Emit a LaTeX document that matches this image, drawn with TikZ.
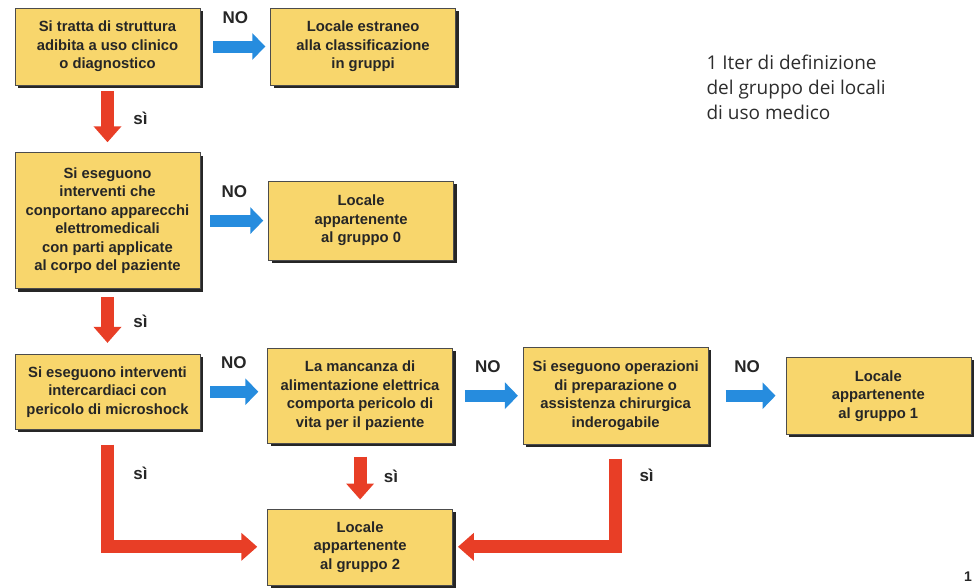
\documentclass[tikz,border=0pt]{standalone}
\usepackage{fontspec}
\setmainfont{Liberation Sans}
\newfontfamily\iterfont{Open Sans}
\usetikzlibrary{arrows.meta,positioning,calc,shadows}

\definecolor{boxyellow}{RGB}{248,214,108}
\definecolor{noblue}{RGB}{38,140,222}
\definecolor{sired}{RGB}{232,62,38}
\definecolor{itergray}{RGB}{45,45,45}

\begin{document}
\begin{tikzpicture}[
  box/.style={draw=black!70, line width=0.6pt, fill=boxyellow, align=center,
    minimum width=185pt, minimum height=77pt, inner sep=3pt,
    font=\bfseries\fontsize{14.8}{18.5}\selectfont, text=black!85,
    drop shadow={shadow xshift=3pt, shadow yshift=-3pt, fill=black!85, opacity=1}},
  lbl/.style={font=\bfseries\fontsize{17}{20}\selectfont, text=black!85},
  noarr/.style={-{Triangle[length=13pt,width=26pt]}, line width=12pt, draw=noblue},
  siarr/.style={-{Triangle[length=16pt,width=27pt]}, line width=13pt, draw=sired}
]
\useasboundingbox (0,0) rectangle (976pt,-587pt);

\node[box] (clinico) at (107.5pt,-46.5pt) {Si tratta di struttura\\adibita a uso clinico\\o diagnostico};
\node[box, right=70pt of clinico] (estraneo) {Locale estraneo\\alla classificazione\\in gruppi};
\node[box, minimum height=136pt, below=67pt of clinico] (apparecchi)
  {Si eseguono\\interventi che\\conportano apparecchi\\elettromedicali\\con parti applicate\\al corpo del paziente};
\node[box, minimum height=79pt, right=68pt of apparecchi] (gruppo0) {Locale\\appartenente\\al gruppo 0};
\node[box, minimum height=75pt, below=65pt of apparecchi] (microshock)
  {Si eseguono interventi\\intercardiaci con\\pericolo di microshock};
\node[box, minimum height=95pt, right=67pt of microshock, yshift=-4pt] (alimentazione)
  {La mancanza di\\alimentazione elettrica\\comporta pericolo di\\vita per il paziente};
\node[box, minimum height=76pt, below=65pt of alimentazione] (gruppo2) {Locale\\appartenente\\al gruppo 2};
\node[box, minimum height=97pt, right=70pt of alimentazione] (chirurgica)
  {Si eseguono operazioni\\di preparazione o\\assistenza chirurgica\\inderogabile};
\node[box, right=77pt of chirurgica] (gruppo1) {Locale\\appartenente\\al gruppo 1};

% risposte NO
\draw[noarr, shorten <=13pt, shorten >=5pt] (clinico.east) -- node[lbl, above=14pt] {NO} (clinico.east -| estraneo.west);
\draw[noarr, shorten <=10pt, shorten >=5pt] (apparecchi.east) -- node[lbl, above=14pt] {NO} (apparecchi.east -| gruppo0.west);
\draw[noarr, shorten <=10pt, shorten >=9pt] (microshock.east) -- node[lbl, above=14pt] {NO} (microshock.east -| alimentazione.west);
\draw[noarr, shorten <=12pt, shorten >=5pt] (alimentazione.east) -- node[lbl, above=14pt] {NO} (alimentazione.east -| chirurgica.west);
\draw[noarr, shorten <=17pt, shorten >=10pt] (chirurgica.east) -- node[lbl, above=14pt] {NO} (chirurgica.east -| gruppo1.west);

% risposte sì
\draw[siarr, shorten <=6pt, shorten >=10pt] (clinico.south) -- node[lbl, right=16pt] {sì} (apparecchi.north);
\draw[siarr, shorten <=8pt, shorten >=11pt] (apparecchi.south) -- node[lbl, right=16pt] {sì} (microshock.north);
\draw[siarr, shorten <=15pt, shorten >=10pt] (microshock.south) -- node[lbl, pos=0.37, right=16pt] {sì}
  (microshock.south |- gruppo2.west) -- (gruppo2.west);
\draw[siarr, shorten <=13pt, shorten >=9pt] (alimentazione.south) -- node[lbl, right=14pt] {sì} (gruppo2.north);
\draw[siarr, shorten <=14pt, shorten >=5pt] (chirurgica.south) -- node[lbl, pos=0.3, right=14pt] {sì}
  (chirurgica.south |- gruppo2.east) -- (gruppo2.east);

\node[anchor=north west, align=left, text=itergray, font=\iterfont\fontsize{19}{25}\selectfont] (iter)
  at (703pt,-51pt) {1 Iter di definizione\\del gruppo dei locali\\di uso medico};
\node[font=\bfseries\fontsize{14}{16}\selectfont, text=black!85] (numero) at (968pt,-577pt) {1};

\end{tikzpicture}
\end{document}
